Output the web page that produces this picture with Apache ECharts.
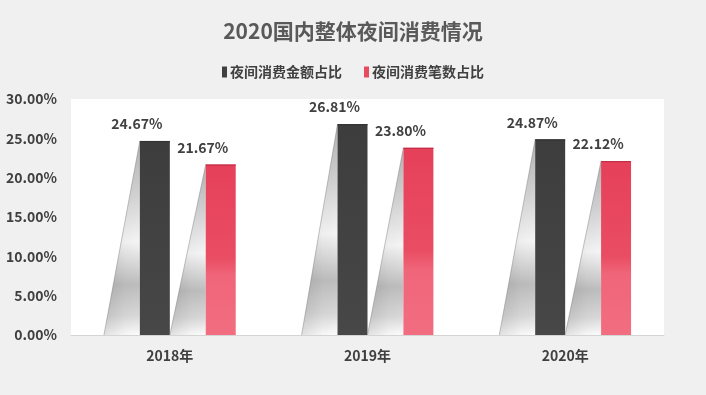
<!DOCTYPE html>
<html>
<head>
<meta charset="utf-8">
<script src="https://cdn.jsdelivr.net/npm/echarts@6/dist/echarts.min.js"></script>
<style>
html,body{margin:0;padding:0;background:#f0f0f0;}
#main{width:706px;height:395px;}
</style>
</head>
<body>
<div id="main"></div>
<script>
const titleText = '2020国内整体夜间消费情况';
const categories = ['2018年', '2019年', '2020年'];
const seriesNames = ['夜间消费金额占比', '夜间消费笔数占比'];
const amountShare = [24.67, 26.81, 24.87];
const countShare = [21.67, 23.80, 22.12];

const FONT = '"Noto Sans CJK SC", "Noto Sans", sans-serif';
const chart = echarts.init(document.getElementById('main'));

const triFill = new echarts.graphic.LinearGradient(0, 0, 0, 1, [
  {offset: 0, color: '#b0b0b0'},
  {offset: 0.28, color: '#d2d2d2'},
  {offset: 0.52, color: '#f4f4f4'},
  {offset: 0.74, color: '#bdbdbd'},
  {offset: 0.9, color: '#d8d8d8'},
  {offset: 1, color: '#fcfcfc'}
]);
const triShade = new echarts.graphic.LinearGradient(0, 0, 1, 0, [
  {offset: 0, color: 'rgba(0,0,0,0.10)'},
  {offset: 0.6, color: 'rgba(0,0,0,0.02)'},
  {offset: 1, color: 'rgba(0,0,0,0)'}
]);
const barFills = [
  new echarts.graphic.LinearGradient(0, 0, 0, 1, [
    {offset: 0, color: '#3d3d3d'},
    {offset: 1, color: '#474747'}
  ]),
  new echarts.graphic.LinearGradient(0, 0, 0, 1, [
    {offset: 0, color: '#e6405a'},
    {offset: 0.55, color: '#e94d63'},
    {offset: 0.65, color: '#f0657a'},
    {offset: 1, color: '#f26d80'}
  ])
];
const topEdge = ['#333333', '#c23048'];
const legendColors = ['#404040', '#e84a60'];

function makeRender(si) {
  return function (params, api) {
    const cat = api.value(0);
    const val = api.value(1);
    const top = api.coord([cat, val]);
    const base = api.coord([cat, 0]);
    const band = api.size([1, 0])[0];
    const slot = band / 3;
    const slotLeft = top[0] - slot + si * slot;
    const barW = slot * 0.455;
    const barLeft = slotLeft + slot - barW;
    const tri = [[slotLeft, base[1]], [barLeft, top[1]], [barLeft, base[1]]];
    return {
      type: 'group',
      children: [
        {type: 'polygon', shape: {points: tri}, style: {fill: triFill}},
        {type: 'polygon', shape: {points: tri}, style: {fill: triShade}},
        {
          type: 'polyline',
          shape: {points: [[slotLeft, base[1]], [barLeft, top[1]]]},
          style: {stroke: 'rgba(110,110,110,0.5)', lineWidth: 0.8, fill: null}
        },
        {
          type: 'rect',
          shape: {x: barLeft, y: top[1], width: barW, height: base[1] - top[1]},
          style: {fill: barFills[si]}
        },
        {
          type: 'rect',
          shape: {x: barLeft, y: top[1], width: barW, height: 1.2},
          style: {fill: topEdge[si]}
        },
        {
          type: 'text',
          x: slotLeft + slot / 2,
          y: top[1] - 10,
          style: {
            text: val.toFixed(2) + '%',
            fill: '#404040',
            font: 'bold 14px ' + FONT,
            align: 'center',
            verticalAlign: 'bottom'
          }
        }
      ]
    };
  };
}

chart.setOption({
  backgroundColor: '#f0f0f0',
  textStyle: {fontFamily: FONT},
  title: {
    text: titleText,
    left: 'center',
    top: 16,
    textStyle: {fontSize: 21, fontWeight: 'bold', color: '#595959', fontFamily: FONT}
  },
  legend: {
    top: 60,
    left: 'center',
    itemWidth: 5,
    itemHeight: 11,
    itemGap: 22,
    icon: 'rect',
    textStyle: {fontSize: 14, fontWeight: 'bold', color: '#404040', fontFamily: FONT, padding: [0, 0, 0, -2]},
    data: seriesNames
  },
  grid: {
    left: 71, right: 42, top: 99, bottom: 60,
    show: true, backgroundColor: '#ffffff', borderWidth: 0
  },
  xAxis: {
    type: 'category',
    data: categories,
    axisLine: {lineStyle: {color: '#d4d4d4', width: 1}},
    axisTick: {show: false},
    axisLabel: {margin: 14, fontSize: 14, fontWeight: 'bold', color: '#404040', fontFamily: FONT}
  },
  yAxis: {
    type: 'value',
    min: 0, max: 30, interval: 5,
    axisLine: {show: false},
    axisTick: {show: false},
    splitLine: {show: false},
    axisLabel: {
      margin: 14, fontSize: 14, fontWeight: 'bold', color: '#404040', fontFamily: FONT,
      formatter: v => v.toFixed(2) + '%'
    }
  },
  series: [
    {
      name: seriesNames[0], type: 'custom',
      itemStyle: {color: legendColors[0]},
      renderItem: makeRender(0),
      encode: {x: 0, y: 1},
      data: categories.map((c, i) => [i, amountShare[i]])
    },
    {
      name: seriesNames[1], type: 'custom',
      itemStyle: {color: legendColors[1]},
      renderItem: makeRender(1),
      encode: {x: 0, y: 1},
      data: categories.map((c, i) => [i, countShare[i]])
    }
  ]
});
</script>
</body>
</html>
